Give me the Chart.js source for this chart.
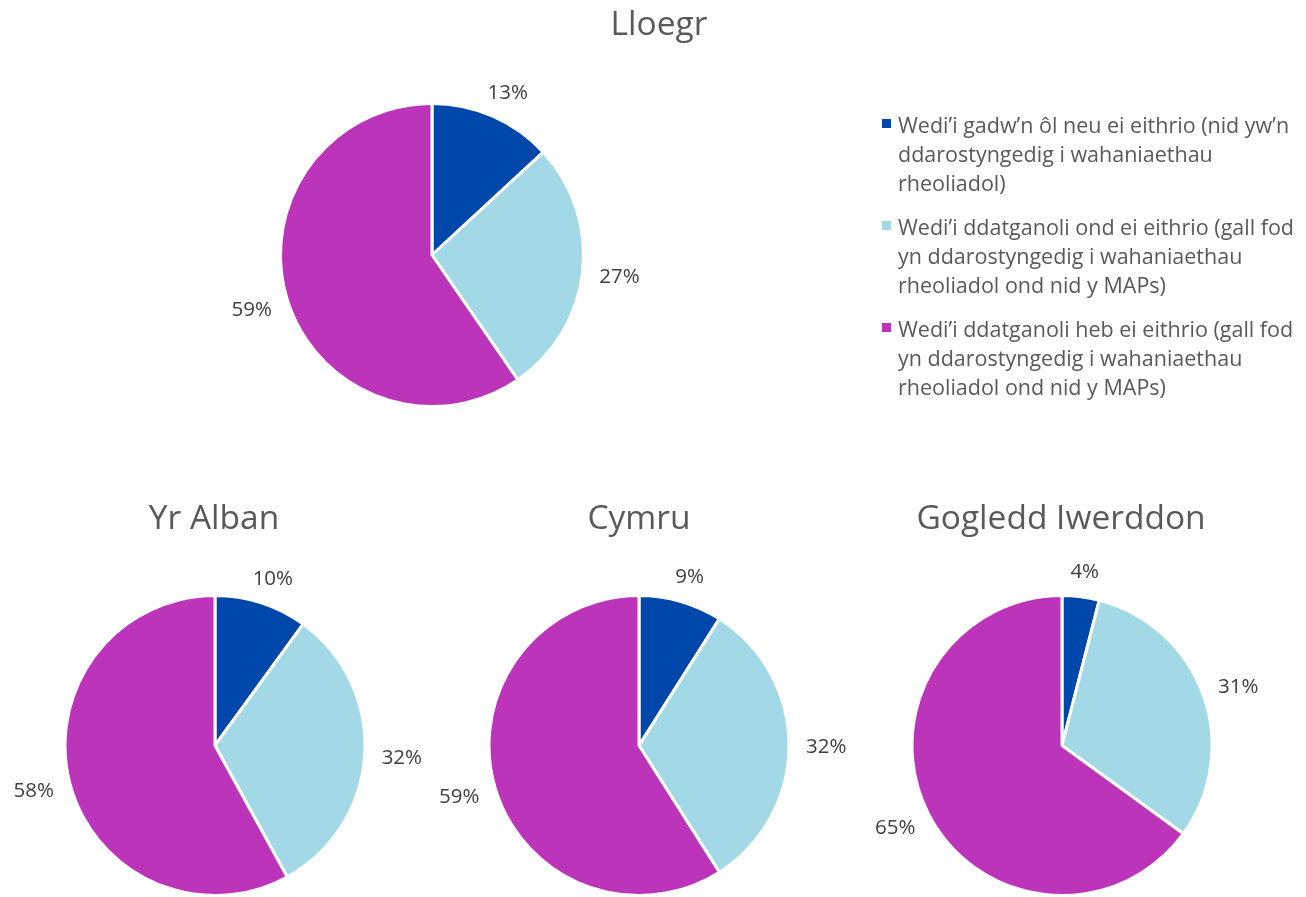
<!DOCTYPE html>
<html>
<head>
<meta charset="utf-8">
<script src="https://cdn.jsdelivr.net/npm/chart.js@4/dist/chart.umd.min.js"></script>
<style>
  html, body { margin: 0; padding: 0; background: #fff; }
  body { width: 1306px; height: 897px; position: relative; overflow: hidden;
         font-family: "Open Sans", "DejaVu Sans", sans-serif; }
  canvas.pie { position: absolute; left: 0; top: 0; }
  .title { position: absolute; transform: translate(-50%, -50%); color: #595959;
           font-size: 33.5px; white-space: nowrap; line-height: 1.2; }
  #legend { position: absolute; left: 882px; top: 110px; color: #595959; font-size: 21.5px; }
  .item { position: relative; padding-left: 16px; margin-bottom: 15px; line-height: 29px; white-space: nowrap; }
  .swatch { position: absolute; left: 0; top: 9px; width: 9px; height: 9px; }
</style>
</head>
<body>
<script>
// Regions
const regions = ["Lloegr", "Yr Alban", "Cymru", "Gogledd Iwerddon"];

// Category labels, one array of lines per category
const categories = [
  ["Wedi\u2019i gadw\u2019n \u00f4l neu ei eithrio (nid yw\u2019n", "ddarostyngedig i wahaniaethau", "rheoliadol)"],
  ["Wedi\u2019i ddatganoli ond ei eithrio (gall fod", "yn ddarostyngedig i wahaniaethau", "rheoliadol ond nid y MAPs)"],
  ["Wedi\u2019i ddatganoli heb ei eithrio (gall fod", "yn ddarostyngedig i wahaniaethau", "rheoliadol ond nid y MAPs)"]
];

// Shares (%) per region, in category order
const lloegr = [13, 27, 59];
const yrAlban = [10, 32, 58];
const cymru = [9, 32, 59];
const gogleddIwerddon = [4, 31, 65];
const seriesValues = [lloegr, yrAlban, cymru, gogleddIwerddon];

const colours = ["#0047ab", "#a3d9e7", "#bb34b9"];

// Layout of each pie: centre and radius in page pixels, title centre
const layouts = [
  { cx: 432, cy: 255, r: 153, tx: 659, ty: 22 },
  { cx: 215, cy: 746, r: 152, tx: 214, ty: 516 },
  { cx: 639, cy: 746, r: 152, tx: 639, ty: 516 },
  { cx: 1062, cy: 746, r: 152, tx: 1061, ty: 516 }
];

const W = 1306, H = 897;

// Percentage labels placed just outside each slice
const outsideLabels = {
  id: "outsideLabels",
  afterDatasetsDraw(chart) {
    const ctx = chart.ctx;
    const meta = chart.getDatasetMeta(0);
    const data = chart.data.datasets[0].data;
    ctx.save();
    ctx.font = "20.5px 'Open Sans', sans-serif";
    ctx.fillStyle = "#404040";
    ctx.textAlign = "center";
    ctx.textBaseline = "middle";
    meta.data.forEach((arc, i) => {
      const p = arc.getProps(["x", "y", "startAngle", "endAngle", "outerRadius"], true);
      const mid = (p.startAngle + p.endAngle) / 2;
      const txt = data[i] + "%";
      const w = ctx.measureText(txt).width;
      const h = 20;
      const gap = 17;
      const c = Math.cos(mid), s = Math.sin(mid);
      const px = p.x + c * (p.outerRadius + gap) + c * w / 2;
      const py = p.y + s * (p.outerRadius + gap) + s * h / 2 + 2;
      ctx.fillText(txt, px, py);
    });
    ctx.restore();
  }
};

regions.forEach((name, k) => {
  const L = layouts[k];
  const cv = document.createElement("canvas");
  cv.className = "pie";
  cv.width = W; cv.height = H;
  cv.style.width = W + "px"; cv.style.height = H + "px";
  document.body.appendChild(cv);

  const t = document.createElement("div");
  t.className = "title";
  t.style.left = L.tx + "px";
  t.style.top = L.ty + "px";
  t.textContent = name;
  document.body.appendChild(t);

  new Chart(cv, {
    type: "pie",
    data: {
      labels: categories.map(c => c.join(" ")),
      datasets: [{
        data: seriesValues[k],
        backgroundColor: colours,
        borderColor: "#ffffff",
        borderWidth: 3
      }]
    },
    options: {
      responsive: false,
      animation: false,
      events: [],
      layout: {
        padding: {
          left: L.cx - L.r,
          top: L.cy - L.r,
          right: W - (L.cx + L.r),
          bottom: H - (L.cy + L.r)
        }
      },
      plugins: {
        legend: { display: false },
        tooltip: { enabled: false },
        title: { display: false }
      }
    },
    plugins: [outsideLabels]
  });
});

// Legend
const legend = document.createElement("div");
legend.id = "legend";
categories.forEach((lines, i) => {
  const item = document.createElement("div");
  item.className = "item";
  const sw = document.createElement("span");
  sw.className = "swatch";
  sw.style.background = colours[i];
  item.appendChild(sw);
  lines.forEach(line => {
    const d = document.createElement("div");
    d.textContent = line;
    item.appendChild(d);
  });
  legend.appendChild(item);
});
document.body.appendChild(legend);
</script>
</body>
</html>
